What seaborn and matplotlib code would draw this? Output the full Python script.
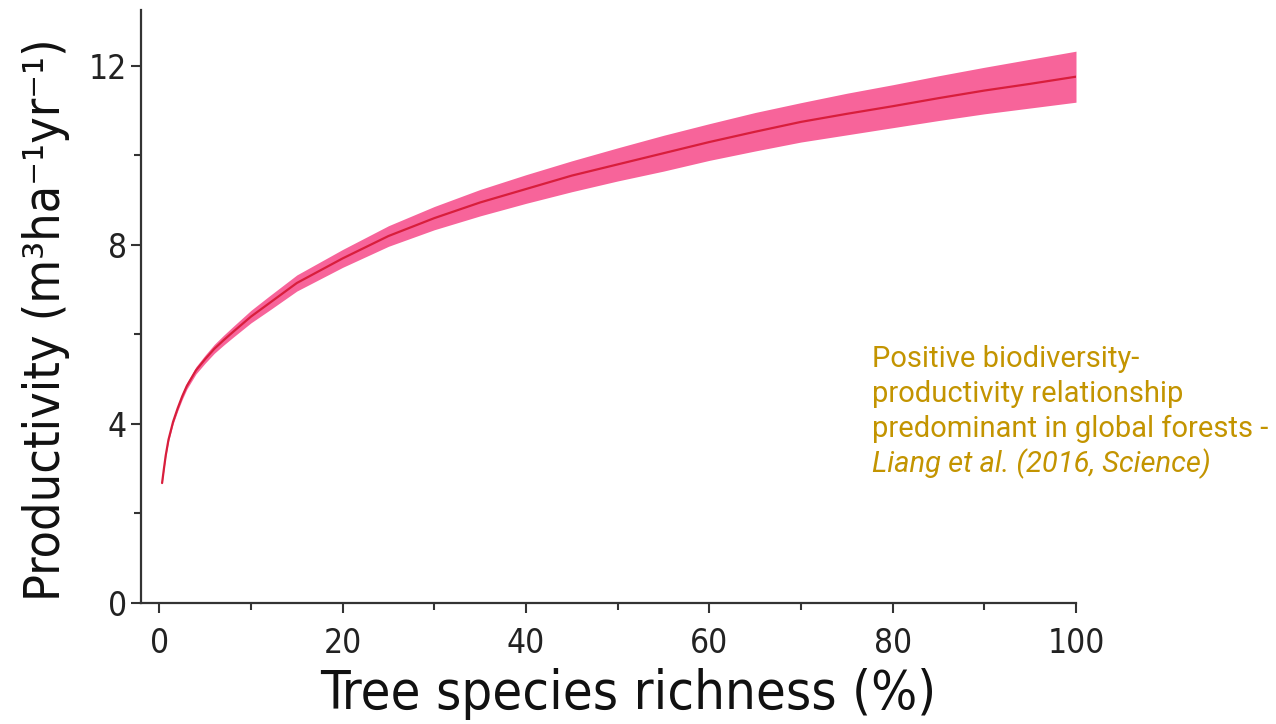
import numpy as np
import pandas as pd
import matplotlib
matplotlib.use("Agg")
import matplotlib.pyplot as plt
import seaborn as sns
from matplotlib.ticker import MultipleLocator

# values
richness = [0.3, 0.5, 0.7, 1, 1.5, 2, 2.5, 3, 4, 5, 6, 7, 8, 10, 12, 15, 20, 25, 30,
            35, 40, 45, 50, 55, 60, 65, 70, 75, 80, 85, 90, 95, 100]
productivity = [2.68, 3.0, 3.3, 3.65, 4.05, 4.35, 4.62, 4.85, 5.2, 5.45, 5.68, 5.87, 6.05, 6.4, 6.7, 7.15,
                7.7, 8.2, 8.6, 8.95, 9.25, 9.55, 9.8, 10.05, 10.3, 10.53, 10.75, 10.93, 11.1, 11.28, 11.45, 11.6, 11.76]
prod_low = [2.66, 2.97, 3.27, 3.61, 4.0, 4.29, 4.55, 4.78, 5.12, 5.36, 5.58, 5.76, 5.93, 6.26, 6.54, 6.97,
            7.5, 7.97, 8.34, 8.65, 8.93, 9.19, 9.43, 9.65, 9.89, 10.1, 10.3, 10.46, 10.62, 10.78, 10.93, 11.06, 11.19]
prod_high = [2.70, 3.03, 3.33, 3.69, 4.1, 4.41, 4.69, 4.92, 5.28, 5.54, 5.78, 5.98, 6.17, 6.54, 6.86, 7.33,
             7.9, 8.43, 8.86, 9.24, 9.57, 9.88, 10.17, 10.45, 10.71, 10.96, 11.18, 11.39, 11.58, 11.78, 11.97, 12.15, 12.33]

x_ticks = [0, 20, 40, 60, 80, 100]
y_ticks = [0, 4, 8, 12]

caption = ["Positive biodiversity-", "productivity relationship", "predominant in global forests -"]
citation = "Liang et al. (2016, Science)"

df = pd.DataFrame({"richness": richness, "productivity": productivity,
                   "low": prod_low, "high": prod_high})

sns.set_style("ticks")
plt.rcParams['font.family'] = ['DejaVu Sans']
plt.rcParams['font.stretch'] = 'condensed'

fig = plt.figure(figsize=(12.76, 7.24), dpi=100)
ax = fig.add_axes([141 / 1276, 1 - 603 / 724, 935 / 1276, 593 / 724])

# confidence band + fitted line
ax.fill_between(df["richness"], df["low"], df["high"], color="#f7649a", linewidth=0)
sns.lineplot(data=df, x="richness", y="productivity", color="#d81e3c", linewidth=1.6, ax=ax)

ax.set_xlim(-2, 100)
ax.set_ylim(0, 13.25)
ax.set_xticks(x_ticks)
ax.set_yticks(y_ticks)
ax.xaxis.set_minor_locator(MultipleLocator(10))
ax.yaxis.set_minor_locator(MultipleLocator(2))
ax.tick_params(which="major", length=7, width=1.5, color="#333333", labelsize=24, labelcolor="#222222")
ax.tick_params(which="minor", length=5, width=1.5, color="#333333")
ax.tick_params(axis="x", pad=10)
ax.tick_params(axis="y", pad=3)

for side in ["top", "right"]:
    ax.spines[side].set_visible(False)
for side in ["left", "bottom"]:
    ax.spines[side].set_linewidth(1.6)
    ax.spines[side].set_color("#333333")

ax.set_xlabel("Tree species richness (%)", fontsize=39, color="#111111")
ax.set_ylabel("Productivity (m³ha⁻¹yr⁻¹)", fontsize=36, color="#111111")
ax.xaxis.set_label_coords(0.521, -0.11)
ax.yaxis.set_label_coords(-0.076, 0.477)

# caption on the right
baselines = [367, 402, 437]
for line, yb in zip(caption, baselines):
    fig.text(872 / 1276, 1 - yb / 724, line, family="Roboto", stretch="normal", fontsize=21,
             color="#c39400", va="baseline", ha="left")
fig.text(872 / 1276, 1 - 472 / 724, citation, family="Roboto", stretch="normal", fontsize=21,
         color="#c39400", style="italic", va="baseline", ha="left")

plt.savefig("out.png", dpi=100)
